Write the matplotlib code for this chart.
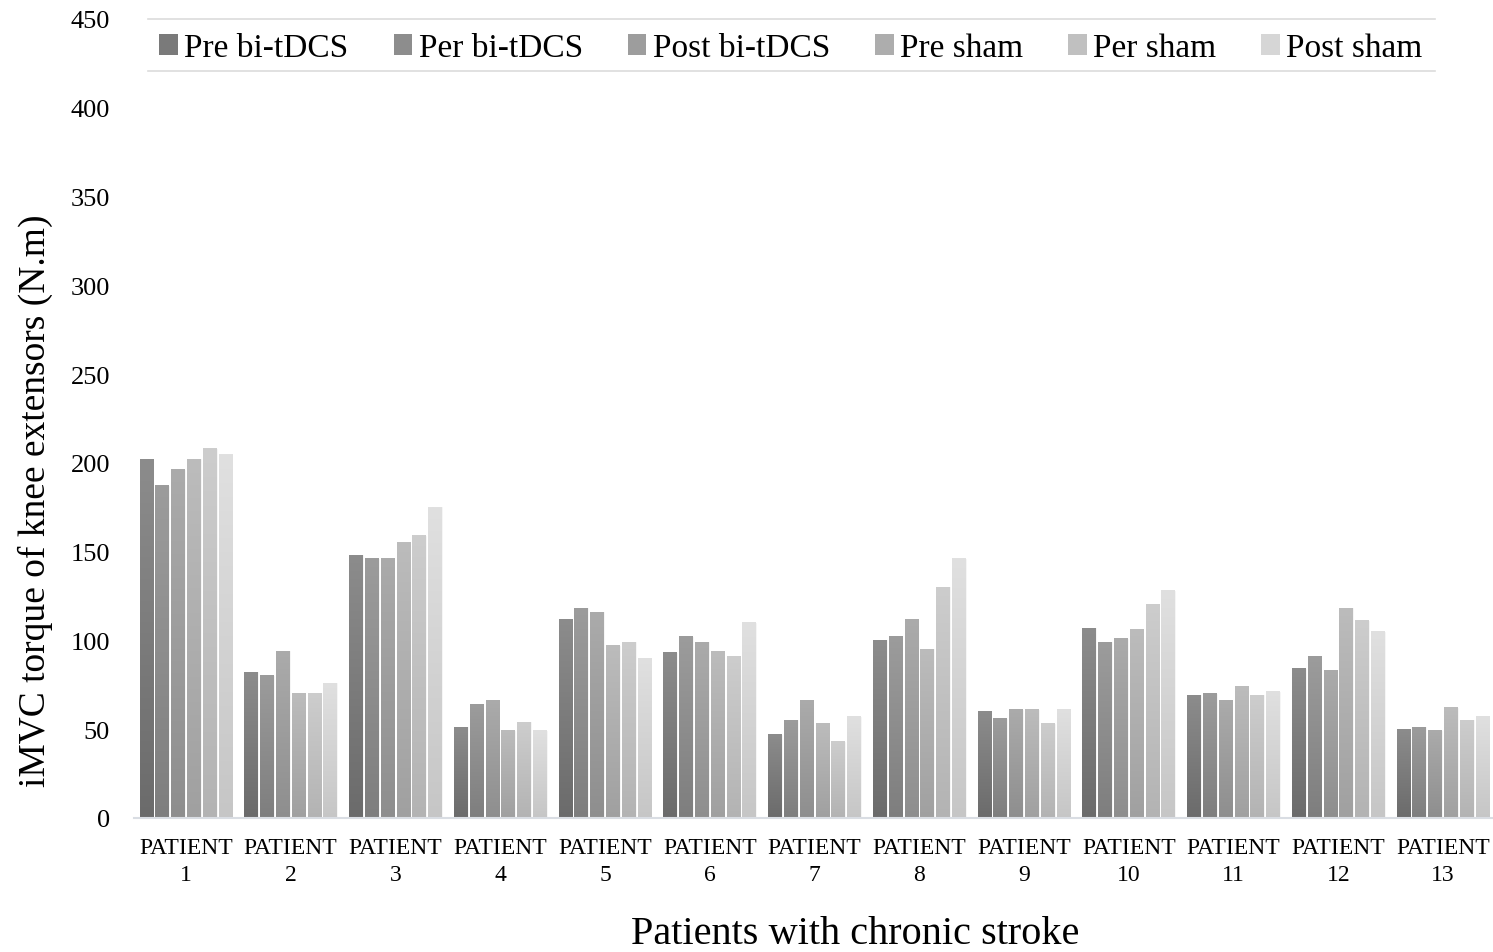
import numpy as np
import matplotlib
matplotlib.use("Agg")
import matplotlib.pyplot as plt
from matplotlib.colors import LinearSegmentedColormap
from matplotlib.patches import Patch
from matplotlib.lines import Line2D

plt.rcParams["font.family"] = ["Liberation Serif", "DejaVu Serif"]

patients = [f"PATIENT\n{i}" for i in range(1, 14)]
series = ["Pre bi-tDCS", "Per bi-tDCS", "Post bi-tDCS", "Pre sham", "Per sham", "Post sham"]

pre_tdcs = [202, 82, 148, 51, 112, 93, 47, 100, 60, 107, 69, 84, 50]
per_tdcs = [187, 80, 146, 64, 118, 102, 55, 102, 56, 99, 70, 91, 51]
post_tdcs = [196, 94, 146, 66, 116, 99, 66, 112, 61, 101, 66, 83, 49]
pre_sham = [202, 70, 155, 49, 97, 94, 53, 95, 61, 106, 74, 118, 62]
per_sham = [208, 70, 159, 54, 99, 91, 43, 130, 53, 120, 69, 111, 55]
post_sham = [205, 76, 175, 49, 90, 110, 57, 146, 61, 128, 71, 105, 57]
values = [pre_tdcs, per_tdcs, post_tdcs, pre_sham, per_sham, post_sham]

# gradient (bottom, top) per series, Excel-style fill
grad = [("#6b6b6b", "#8c8c8c"), ("#7e7e7e", "#9c9c9c"), ("#8e8e8e", "#ababab"),
        ("#a0a0a0", "#bcbcbc"), ("#b3b3b3", "#cdcdcd"), ("#c6c6c6", "#e0e0e0")]
legend_cols = ["#7a7a7a", "#8d8d8d", "#9d9d9d", "#adadad", "#c0c0c0", "#d6d6d6"]

W, H = 1493, 953
fig = plt.figure(figsize=(W / 100, H / 100), dpi=100)
ax = fig.add_axes([133.6 / W, 1 - 819 / H, (1495.4 - 133.6) / W, (819 - 20) / H])

x = np.arange(len(patients))
step, bw = 0.151, 0.13
ramp = np.linspace(0, 1, 256).reshape(-1, 1)
for k, vals in enumerate(values):
    bars = ax.bar(x + (k - 2.5) * step, vals, width=bw, facecolor="none",
                  edgecolor="#f4f4f4", linewidth=0.6, zorder=1)
    cmap = LinearSegmentedColormap.from_list(f"g{k}", grad[k])
    for b in bars:
        x0, h = b.get_x(), b.get_height()
        ax.imshow(ramp, cmap=cmap, origin="lower", aspect="auto",
                  extent=(x0, x0 + b.get_width(), 0, h), zorder=2)

ax.set_xlim(-0.5, len(patients) - 0.5)
ax.set_ylim(0, 450)
ax.set_yticks(np.arange(0, 451, 50))
ax.set_xticks(x)
ax.set_xticklabels(patients, fontsize=17, linespacing=1.35)
ax.tick_params(axis="y", length=0, pad=17, labelsize=19)
ax.tick_params(axis="x", length=0, pad=14)
for s in ("top", "right", "left"):
    ax.spines[s].set_visible(False)
ax.spines["bottom"].set_color("#d9dde3")
ax.spines["bottom"].set_linewidth(1.5)
ax.spines["bottom"].set_zorder(3)

fig.text(35 / W, 1 - 501 / H, "iMVC torque of knee extensors (N.m)", rotation=90,
         ha="center", va="center", fontsize=27)
fig.text(855 / W, 1 - 935 / H, "Patients with chronic stroke", ha="center", va="center",
         fontsize=29)

handles = [Patch(facecolor=c, edgecolor="none") for c in legend_cols]
fig.legend(handles, series, loc="center", bbox_to_anchor=(791 / W, 1 - 49 / H), ncol=6,
           frameon=False, fontsize=24, handlelength=0.55, handleheight=0.55,
           handletextpad=0.2, columnspacing=1.35, borderaxespad=0)
for yy in (20, 72):
    fig.add_artist(Line2D([148 / W, 1435 / W], [1 - yy / H, 1 - yy / H],
                          transform=fig.transFigure, color="#dcdcdc", lw=1.2))

fig.savefig("out.png", dpi=100, facecolor="white")
